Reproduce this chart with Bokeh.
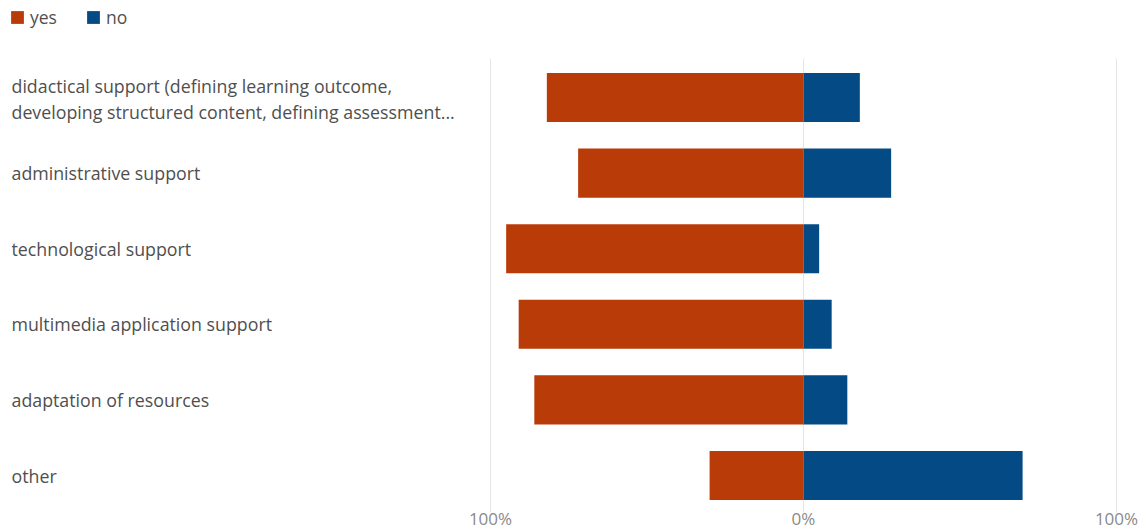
from bokeh.plotting import figure
from bokeh.models import Range1d, ColumnDataSource, Legend, LegendItem
from bokeh.core.properties import value
from bokeh.embed import file_html
from bokeh.resources import INLINE

categories = [
    "didactical support (defining learning outcome,\ndeveloping structured content, defining assessment...",
    "administrative support",
    "technological support",
    "multimedia application support",
    "adaptation of resources",
    "other",
]
yes = [82, 72, 95, 91, 86, 30]
no = [18, 28, 5, 9, 14, 70]
tick_values = [-100, 0, 100]
tick_labels = ["100%", "0%", "100%"]

YES_COLOR = "#B93C08"
NO_COLOR = "#044A84"
FONT = "Open Sans"

W, H = 1146, 531
# horizontal geometry: value -100 at px 490, value 100 at px 1116
px_per_unit_x = 3.13
x_start = -100 - 490 / px_per_unit_x
x_end = x_start + W / px_per_unit_x
label_x = x_start + 11 / px_per_unit_x
# vertical geometry: row 0 centred at px 97, rows 75.6 px apart
row0_px, row_px = 97.0, 75.6
def py(pix):
    return (pix - row0_px) / row_px
y_top, y_bottom = py(0), py(H)

n = len(categories)
src = ColumnDataSource(dict(
    y=[i + 0.02 * (c.count("\n")) for i, c in enumerate(categories)],
    cat=categories,
))
bar_src = ColumnDataSource(dict(
    y=list(range(n)),
    yes_left=[-v for v in yes],
    zero=[0] * n,
    no_right=no,
))
tick_src = ColumnDataSource(dict(x=tick_values, label=tick_labels,
                                 y0=[py(58)] * len(tick_values),
                                 y1=[py(512)] * len(tick_values),
                                 ly=[py(518)] * len(tick_values)))

p = figure(width=W, height=H, output_backend="svg", toolbar_location=None,
           x_range=Range1d(x_start, x_end), y_range=Range1d(y_bottom, y_top),
           min_border=0, x_axis_location=None, y_axis_location=None)
p.outline_line_color = None
p.grid.visible = False
p.background_fill_color = "white"
p.border_fill_color = "white"

# vertical grid lines at tick values
p.segment(x0="x", y0="y0", x1="x", y1="y1", source=tick_src,
          line_color="#e6e6e6", line_width=1)

r_yes = p.hbar(y="y", left="yes_left", right="zero", height=0.65, source=bar_src,
               fill_color=YES_COLOR, line_color=None)
r_no = p.hbar(y="y", left="zero", right="no_right", height=0.65, source=bar_src,
              fill_color=NO_COLOR, line_color=None)

p.text(x=label_x, y="y", text="cat", source=src, text_font=value(FONT),
       text_font_size="17.8px", text_color="#4f4f4f", text_align="left",
       text_baseline="middle", text_line_height=1.05)

p.text(x="x", y="ly", text="label", source=tick_src, text_font=value(FONT),
       text_font_size="17px", text_color="#8a8a8a", text_align="center",
       text_baseline="middle")

legend = Legend(items=[LegendItem(label="yes", renderers=[r_yes]),
                       LegendItem(label="no", renderers=[r_no])],
                orientation="horizontal", location=(9, H - 29),
                label_text_font=FONT, label_text_font_size="17.5px",
                label_text_color="#4f4f4f", glyph_width=16, glyph_height=16,
                label_standoff=5, spacing=28, padding=0, margin=0,
                background_fill_alpha=0, border_line_color=None)
p.add_layout(legend)

open("out.html", "w").write(file_html(p, INLINE))
